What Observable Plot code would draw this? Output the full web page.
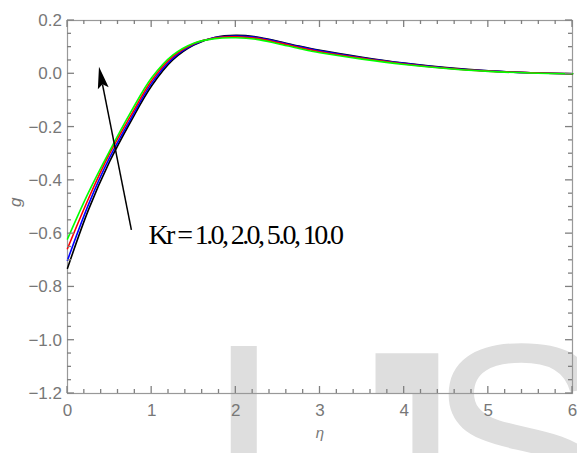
<!DOCTYPE html>
<html>
<head>
<meta charset="utf-8">
<script src="https://cdn.jsdelivr.net/npm/d3@7"></script>
<script src="https://cdn.jsdelivr.net/npm/@observablehq/plot@0.6"></script>
<style>
  html, body { margin: 0; padding: 0; background: #fff; }
  #wrap { position: relative; width: 577px; height: 453px; overflow: hidden; }
  #wm { position: absolute; left: 205px; top: 302px; font-family: "Liberation Sans", Arial, sans-serif;
        font-size: 279px; line-height: 1; color: #dedede; white-space: nowrap; }
  #wm span { display: inline-block; }
  #wm span.i { margin-right: 37px; }
  #wm span.j { transform: scaleY(1.9); transform-origin: 50% 36px; margin-right: -32px; }
  #chart { position: absolute; left: 0; top: 0; }
</style>
</head>
<body>
<div id="wrap">
  <div id="wm"><span class="i">I</span><span class="j">J</span><span>SER</span></div>
  <div id="chart"></div>
</div>
<script>
// ---- data ----
const eta = [0, 0.25, 0.5, 0.75, 1.0, 1.25, 1.5, 1.75, 2.0, 2.25, 2.5, 2.75, 3.0, 3.5, 4.0, 4.5, 5.0, 5.5, 6.0];
const gKr1  = [-0.730, -0.510, -0.330, -0.180, -0.045, 0.052, 0.108, 0.136, 0.144, 0.138, 0.122, 0.104, 0.088, 0.062, 0.040, 0.023, 0.011, 0.004, 0.000];
const gKr2  = [-0.700, -0.490, -0.315, -0.170, -0.035, 0.058, 0.110, 0.136, 0.142, 0.136, 0.120, 0.102, 0.086, 0.060, 0.039, 0.022, 0.011, 0.004, 0.000];
const gKr5  = [-0.656, -0.468, -0.300, -0.158, -0.025, 0.064, 0.113, 0.134, 0.139, 0.133, 0.117, 0.099, 0.083, 0.058, 0.037, 0.021, 0.010, 0.004, 0.000];
const gKr10 = [-0.620, -0.445, -0.290, -0.145, -0.015, 0.070, 0.115, 0.132, 0.135, 0.129, 0.113, 0.095, 0.079, 0.055, 0.035, 0.020, 0.009, 0.003, 0.000];
const seriesNames  = ["Kr = 1.0", "Kr = 2.0", "Kr = 5.0", "Kr = 10.0"];
const seriesValues = [gKr1, gKr2, gKr5, gKr10];
const seriesColors = ["#000000", "#0000ff", "#ff0000", "#00ff00"];

const xMajor = [0, 1, 2, 3, 4, 5, 6];
const yMajor = [0.2, 0.0, -0.2, -0.4, -0.6, -0.8, -1.0, -1.2];
const xMinor = d3.range(0, 60.5, 2).map(d => d / 10);
const yMinor = d3.range(-120, 20.5, 5).map(d => d / 100);
const xDomain = [0, 6];
const yDomain = [-1.2, 0.2];

const annotation = "Kr = 1.0, 2.0, 5.0, 10.0";
const arrowTail = [0.765, -0.588];
const arrowTip  = [0.38, 0.025];
const annotationPos = [0.962, -0.606];

// ---- build table ----
const rows = [];
seriesValues.forEach((vals, i) => {
  vals.forEach((v, j) => rows.push({eta: eta[j], g: v, s: seriesNames[i]}));
});

const frameColor = "#999999";
const tickColor = "#808080";

// inward ticks on all four sides, as line elements placed through the scales
function frameTicks(index, scales) {
  const {x, y} = scales;
  const top = y(yDomain[1]), bottom = y(yDomain[0]);
  const left = x(xDomain[0]), right = x(xDomain[1]);
  const isMajorX = v => xMajor.some(m => Math.abs(m - v) < 1e-9);
  const isMajorY = v => yMajor.some(m => Math.abs(m - v) < 1e-9);
  const g = d3.create("svg:g");
  const seg = (x1, y1, x2, y2) => g.append("line").attr("x1", x1).attr("y1", y1).attr("x2", x2).attr("y2", y2)
    .attr("stroke", tickColor).attr("stroke-width", 1.3);
  for (const v of xMinor) {
    const L = isMajorX(v) ? 7 : 4, px = x(v);
    seg(px, bottom, px, bottom - L);
    seg(px, top, px, top + L);
  }
  for (const v of yMinor) {
    const L = isMajorY(v) ? 7 : 4, py = y(v);
    seg(left, py, left + L, py);
    seg(right, py, right - L, py);
  }
  return g.node();
}

function arrowMark(index, scales) {
  const {x, y} = scales;
  const x1 = x(arrowTail[0]), y1 = y(arrowTail[1]);
  const x2 = x(arrowTip[0]),  y2 = y(arrowTip[1]);
  const dx = x2 - x1, dy = y2 - y1, L = Math.hypot(dx, dy);
  const ux = dx / L, uy = dy / L;
  const hl = 22, hw = 5.5;
  const bx = x2 - ux * hl, by = y2 - uy * hl;
  const nx = -uy, ny = ux;
  const g = d3.create("svg:g");
  g.append("line").attr("x1", x1).attr("y1", y1).attr("x2", bx + ux * 4).attr("y2", by + uy * 4)
    .attr("stroke", "#000").attr("stroke-width", 1.5);
  g.append("path")
    .attr("d", `M${x2},${y2}L${bx + nx * hw},${by + ny * hw}L${bx + ux * 4},${by + uy * 4}L${bx - nx * hw},${by - ny * hw}Z`)
    .attr("fill", "#000");
  return g.node();
}

const plot = Plot.plot({
  width: 577,
  height: 453,
  marginLeft: 67,
  marginRight: 5,
  marginTop: 20,
  marginBottom: 60,
  style: {fontFamily: "'Liberation Sans', Arial, sans-serif", fontSize: "17px", color: "#777", background: "transparent"},
  x: {domain: xDomain},
  y: {domain: yDomain},
  color: {domain: seriesNames, range: seriesColors},
  marks: [
    Plot.frame({stroke: frameColor, strokeWidth: 1.2, fill: "none"}),
    Plot.axisX(xMajor, {anchor: "bottom", tickSize: 0, tickPadding: 10, tickFormat: d3.format("d"), label: null}),
    Plot.axisY(yMajor, {anchor: "left", tickSize: 0, tickPadding: 5.5, tickFormat: d3.format(".1f"), label: null}),
    Plot.line(rows, {x: "eta", y: "g", z: "s", stroke: "s", strokeWidth: 1.6, curve: "catmull-rom"}),
    frameTicks,
    arrowMark,
    Plot.text([annotation], {x: annotationPos[0], y: annotationPos[1], text: d => d, textAnchor: "start",
      fontFamily: "'Liberation Serif', 'Times New Roman', serif", fontSize: 28, fill: "#000"}),
    Plot.text(["η"], {frameAnchor: "bottom", text: d => d, dy: 44, fontStyle: "italic", fontSize: 15}),
    Plot.text(["g"], {frameAnchor: "left", text: d => d, dx: -52, rotate: -90, fontStyle: "italic", fontSize: 17})
  ]
});

d3.select(plot).selectAll("text").filter(function() { return this.textContent === annotation; })
  .style("letter-spacing", "-2.6px");

document.getElementById("chart").appendChild(plot);
</script>
</body>
</html>
